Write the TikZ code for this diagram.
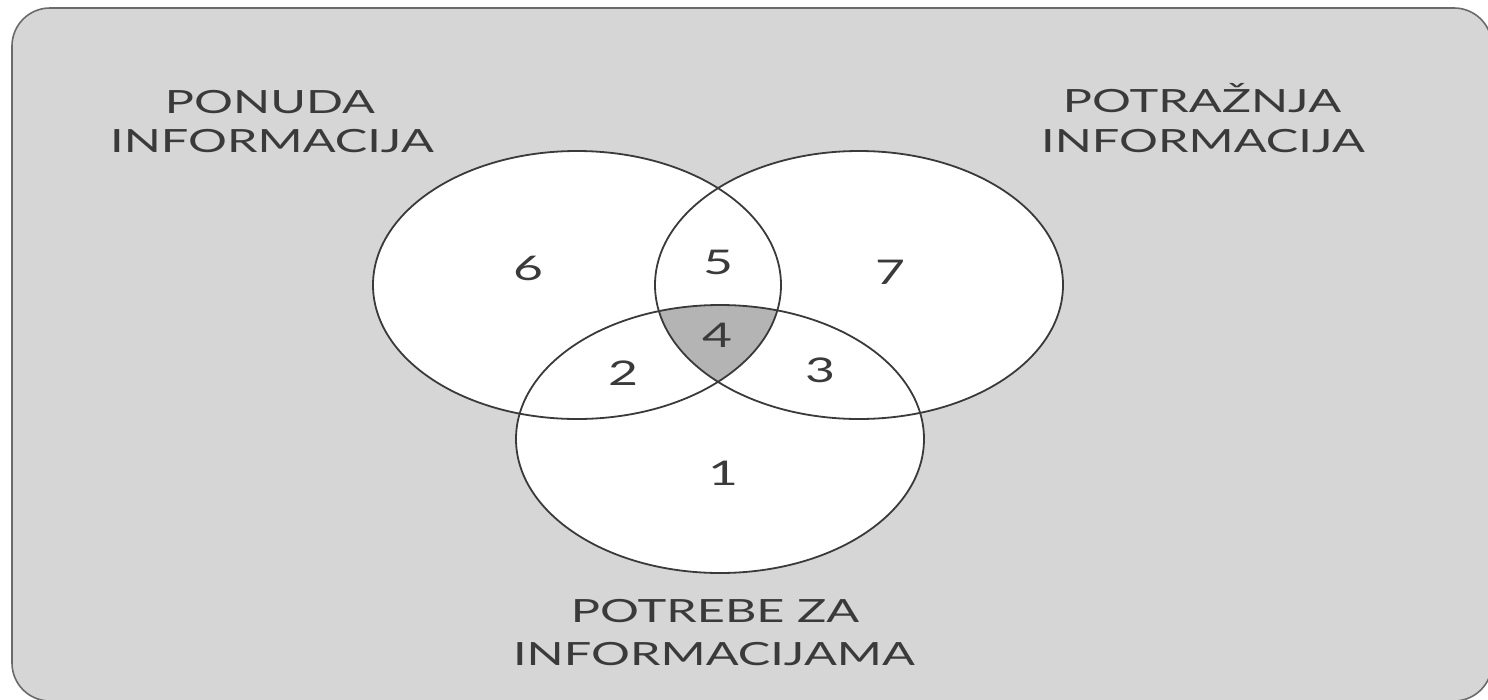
\documentclass[tikz,border=0pt]{standalone}
\usepackage{fontspec}
\setmainfont{Lato}
\definecolor{panel}{HTML}{D6D6D6}
\definecolor{ink}{HTML}{3A3A3A}
\definecolor{core}{HTML}{B4B4B4}
\definecolor{rim}{HTML}{6A6A6A}
\begin{document}
\begin{tikzpicture}[x=1pt,y=-1pt,
  set/.style={draw=ink, line width=1.8pt},
  lbl/.style={font=\fontsize{32}{39}\selectfont, text=ink, anchor=base, xscale=1.52, inner sep=0pt},
  num/.style={font=\fontsize{34}{40}\selectfont, text=ink, xscale=1.52, inner sep=0pt}]
\useasboundingbox (0,0) rectangle (1488,699);
% grey panel with rounded corners
\begin{scope}
  \clip (0,0) rectangle (1488,699);
  \draw[fill=panel, draw=rim, line width=1.6pt, rounded corners=38pt] (12,8) rectangle (1492,701);
\end{scope}
% centres of the three sets
\coordinate (L) at (577,285);
\coordinate (R) at (859,285);
\coordinate (B) at (720,439);
% white interiors
\fill[white] (L) ellipse [x radius=204, y radius=134];
\fill[white] (R) ellipse [x radius=204, y radius=134];
\fill[white] (B) ellipse [x radius=204, y radius=134];
% common part of all three sets
\begin{scope}
  \clip (L) ellipse [x radius=204, y radius=134];
  \clip (R) ellipse [x radius=204, y radius=134];
  \fill[core] (B) ellipse [x radius=204, y radius=134];
\end{scope}
% outlines
\draw[set] (L) ellipse [x radius=204, y radius=134];
\draw[set] (R) ellipse [x radius=204, y radius=134];
\draw[set] (B) ellipse [x radius=204, y radius=134];
% set titles
\node[lbl] (ponA) at (270,113) {PONUDA};
\node[lbl] (ponB) at (272,152) {INFORMACIJA};
\node[lbl] (potA) at (1202,112) {POTRAŽNJA};
\node[lbl] (potB) at (1203,152) {INFORMACIJA};
\node[lbl] (trbA) at (715,622) {POTREBE ZA};
\node[lbl] (trbB) at (714,665) {INFORMACIJAMA};
% region numbers
\node[num] (n6) at (528,268) {6};
\node[num] (n5) at (718,262) {5};
\node[num] (n7) at (890,272) {7};
\node[num] (n4) at (717,335) {4};
\node[num] (n2) at (623,373) {2};
\node[num] (n3) at (820,370) {3};
\node[num] (n1) at (723,473) {1};
\end{tikzpicture}
\end{document}
